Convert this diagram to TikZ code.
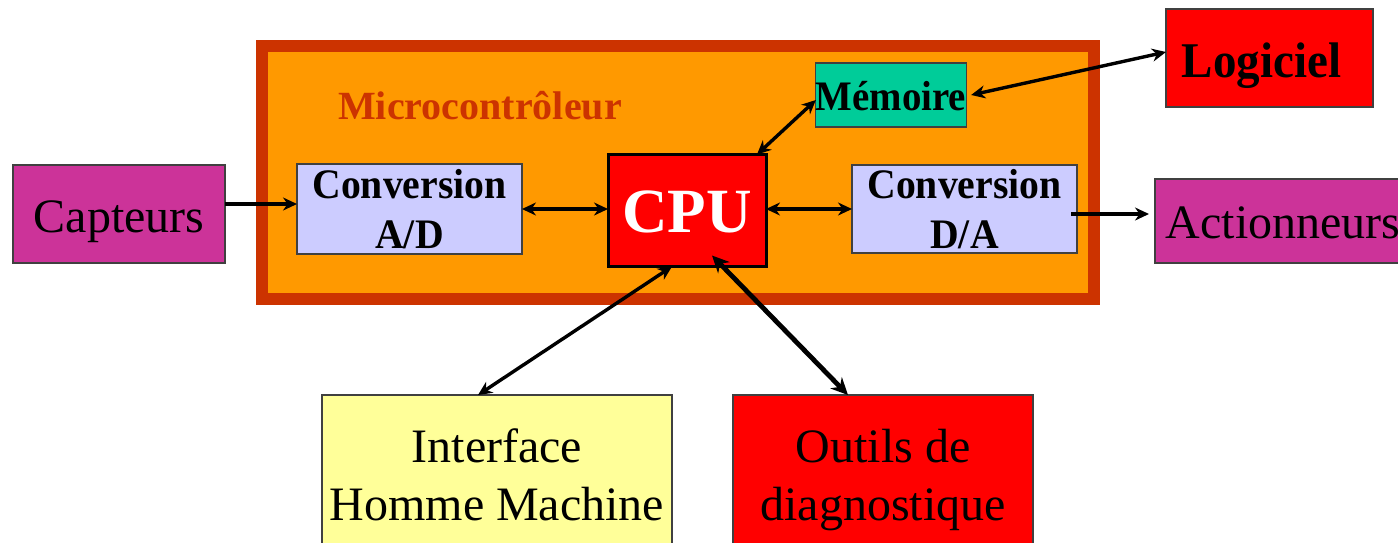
\documentclass[tikz,border=0pt]{standalone}
\usepackage{fontspec}
\setmainfont{Liberation Serif}
\newfontfamily\convfont[FakeStretch=0.945]{Liberation Serif}
\newfontfamily\memfont[FakeStretch=0.925]{Liberation Serif}
\newfontfamily\logfont[FakeStretch=0.94]{Liberation Serif}
\usetikzlibrary{arrows.meta}
\definecolor{orangeF}{HTML}{FF9900}
\definecolor{borderC}{HTML}{CC3300}
\definecolor{magentaF}{HTML}{CC3399}
\definecolor{lavF}{HTML}{CCCCFF}
\definecolor{tealF}{HTML}{00CC99}
\definecolor{yellowF}{HTML}{FFFF99}
\definecolor{redF}{HTML}{FF0000}
\tikzset{
  box/.style={draw=black!75, line width=0.6pt, inner sep=0pt, outer sep=0pt, align=center},
  bigtext/.style={font=\fontsize{24}{29}\selectfont},
  convtext/.style={font=\convfont\bfseries\fontsize{21}{25}\selectfont},
  arr/.style={line width=1.7pt, -{Stealth[length=7pt,width=6.5pt]}},
  darr/.style={line width=1.7pt, {Stealth[length=7pt,width=6.5pt]}-{Stealth[length=7pt,width=6.5pt]}},
}
\begin{document}
\begin{tikzpicture}[x=0.5pt,y=-0.5pt]
\useasboundingbox (0,0) rectangle (1398,542);
\clip (0,0) rectangle (1398,542);
% microcontroller frame
\node[draw=borderC, line width=6pt, fill=orangeF, inner sep=0pt, outer sep=0pt,
      minimum width=416pt, minimum height=126.5pt] (mc) at (678,172.5) {};
\node[font=\bfseries\fontsize{20}{24}\selectfont, text=borderC, anchor=base] (mclabel) at (480,119) {Microcontrôleur};
% inner blocks
\node[box, fill=tealF, minimum width=74pt, minimum height=32pt, text height=15pt, text depth=0pt,
      font=\memfont\bfseries\fontsize{21}{24}\selectfont] (mem) at (891,95) {Mémoire};
\node[box, fill=lavF, minimum width=112.5pt, minimum height=45pt, convtext] (ad) at (409.5,209) {Conversion\\A/D};
\node[box, fill=lavF, minimum width=112.5pt, minimum height=44pt, convtext] (da) at (964.5,209) {Conversion\\D/A};
\node[draw=black, line width=1.5pt, fill=redF, inner sep=0pt, outer sep=0pt,
      minimum width=79pt, minimum height=56pt, text=white, text height=21.5pt, text depth=0pt,
      font=\bfseries\fontsize{31.5}{36}\selectfont] (cpu) at (687,210.5) {CPU};
% outer blocks
\node[box, fill=redF, minimum width=103.5pt, minimum height=49pt, text height=19pt, text depth=0pt,
      font=\logfont\bfseries\fontsize{25}{28}\selectfont] (log) at (1269.5,58) {\hspace*{-8pt}Logiciel};
\node[box, fill=magentaF, minimum width=106pt, minimum height=49pt, text height=18pt, text depth=0pt, bigtext] (cap) at (119,214) {Capteurs};
\node[box, fill=magentaF, minimum width=128pt, minimum height=42pt, text height=17pt, text depth=0pt, bigtext] (act) at (1283,221) {Actionneurs};
\node[box, fill=yellowF, minimum width=175pt, minimum height=79.5pt, bigtext] (ihm) at (497,474.5) {Interface\\Homme Machine};
\node[box, fill=redF, minimum width=150pt, minimum height=85pt, bigtext] (out) at (883,480) {Outils de\\diagnostique};
% connectors
\draw[arr] ([yshift=2.5pt]cap.east |- ad.west) -- ([yshift=2.5pt]ad.west);
\draw[darr] (ad.east) -- (ad.east -| cpu.west);
\draw[darr] (cpu.east |- da.west) -- (da.west);
\draw[arr] ([xshift=-3pt,yshift=-2.5pt]da.east) -- ([xshift=-3pt,yshift=-2.5pt]da.east -| act.west);
\draw[darr] ([xshift=-4.5pt]cpu.north east) -- ([yshift=-2.5pt]mem.west);
\draw[darr] ([xshift=2.5pt]mem.east) -- ([yshift=3pt]log.west);
\draw[darr] ([xshift=-7.5pt]cpu.south) -- ([xshift=-9.5pt]ihm.north);
\draw[line width=2.4pt, {Stealth[length=8.5pt,width=8pt]}-{Stealth[length=8.5pt,width=8pt]}]
  ([xshift=12.5pt,yshift=5.5pt]cpu.south) -- ([xshift=-17.5pt]out.north);
\end{tikzpicture}
\end{document}
